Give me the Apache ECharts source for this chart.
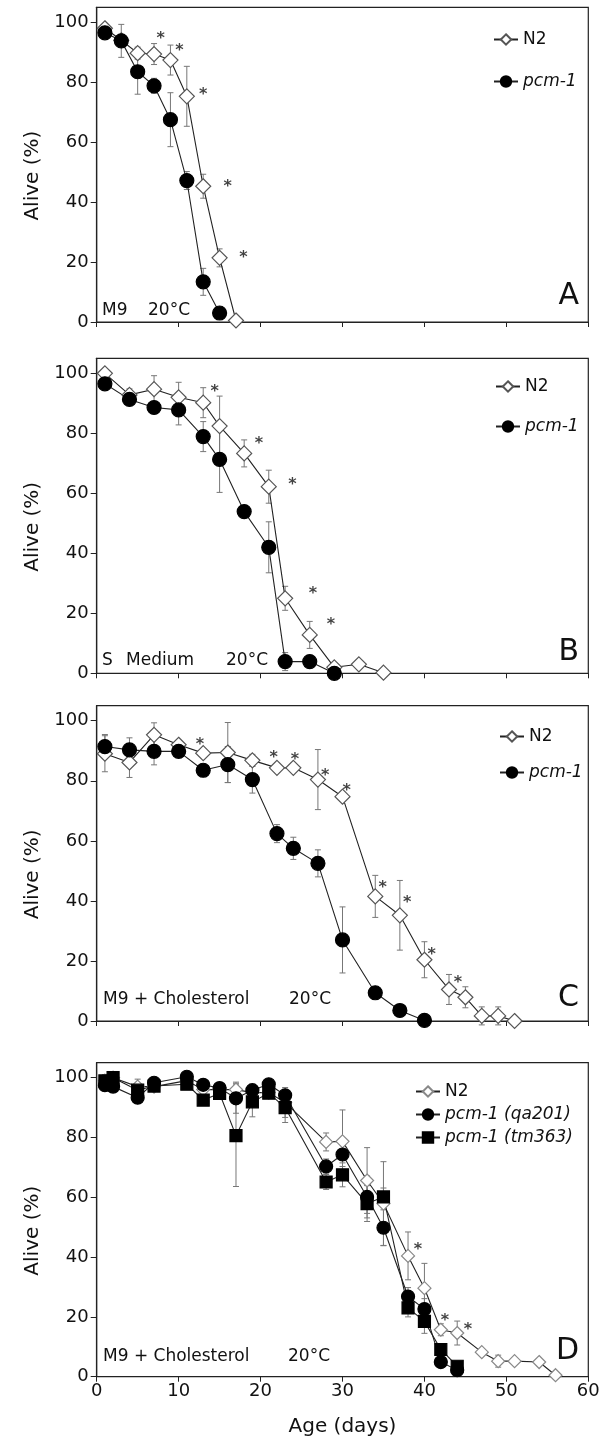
<!DOCTYPE html>
<html><head><meta charset="utf-8">
<script src="https://cdn.jsdelivr.net/npm/echarts@6/dist/echarts.min.js"></script>
<style>html,body{margin:0;padding:0;background:#fff}#c{width:606px;height:1445px}</style>
</head><body><div id="c"></div><script>
// ---------- DATA ----------
// Panel A (M9, 20°C)
const daysN2A = [1,3,5,7,9,11,13,15,17];
const n2A     = [98,94,89.7,89.4,87.4,75.3,45.3,21.4,0.5];
const n2ErrA  = [1,0,2,3.5,5,10,4,3,0];
const daysPcmA = [1,3,5,7,9,11,13,15];
const pcmA     = [96.5,93.8,83.5,78.8,67.5,47.2,13.4,3];
const pcmErrA  = [1.5,5.5,7.5,2.5,9,3,4.5,0];
const starXA = [7.8,10.1,13.0,16.0,17.9];
const starYA = [96,92.3,77.4,46.9,23];

// Panel B (S Medium, 20°C)
const daysN2B = [1,4,7,10,13,15,18,21,23,26,29,32,35];
const n2B     = [100,92.8,94.7,92,90.2,82.4,73.3,62.2,25,12.8,2,3,0.2];
const n2ErrB  = [0,2,4.5,5,5,10,4.5,5.5,4,4.5,0,0,0];
const daysPcmB = [1,4,7,10,13,15,18,21,23,26,29];
const pcmB     = [96.5,91.3,88.6,87.8,78.9,71.3,53.9,42,3.9,3.9,0];
const pcmErrB  = [1.5,2,1.5,5,5,11,1.5,8.5,3,0,0];
const starXB = [14.4,19.8,23.9,26.4,28.6];
const starYB = [95.5,78.3,64.4,28,17.8];

// Panel C (M9 + Cholesterol, 20°C)
const daysN2C = [1,4,7,10,13,16,19,22,24,27,30,34,37,40,43,45,47,49,51];
const n2C     = [89,86.1,95.3,92,89.2,89.4,86.8,84.3,84.3,80.4,74.7,41.5,35.2,20.4,10.5,7.9,1.7,1.7,0];
const n2ErrC  = [6,5,4,1,1.5,10,2,1.5,1.5,10,1.5,7,11.6,6,5,3.5,3,3,0];
const daysPcmC = [1,4,7,10,13,16,19,22,24,27,30,34,37,40];
const pcmC     = [91.4,90.3,89.8,89.8,83.5,85.4,80.4,62.4,57.5,52.5,27,9.4,3.5,0.2];
const pcmErrC  = [4,4,4.5,1.5,1.5,6,4.5,3,3.7,4.5,11,1,1,0];
const starXC = [12.6,21.6,24.2,27.9,30.5,34.9,37.9,40.9,44.1];
const starYC = [93.6,89.4,88.7,83.4,78.2,46,41,23.7,14.3];

// Panel D (M9 + Cholesterol, 20°C)
const daysN2D = [1,2,5,7,11,13,15,17,19,21,23,28,30,33,35,38,40,42,44,47,49,51,54,56];
const n2D     = [99,100,97,97,99,96,96,96,95,95,91.7,78.5,78.7,65.6,57.9,40.4,29.6,15.7,14.6,8.2,5.2,5.2,4.9,0.5];
const n2ErrD  = [2,1.5,2.5,1.5,1,1.5,1.5,2.5,1.5,1.5,5,3,10.5,11,14,8,8.3,2,4,1,2,0.5,1,0];
const daysMutD = [1,2,5,7,11,13,15,17,19,21,23,28,30,33,35,38,40,42,44];
const qaD     = [97.5,97,93.3,98.3,100.3,97.6,96.5,93.1,95.8,97.8,94.1,70.3,74.3,60.1,49.8,26.8,22.6,4.9,2.2];
const qaErrD  = [1.5,1.5,1.5,1,1,1,1,5,2,1,2,2.5,4,7,6,3,3.5,1,0.5];
const tmD     = [98.9,100,95.8,97.2,97.8,92.5,94.7,80.6,91.9,94.8,90,65.1,67.5,57.9,60.1,23,18.5,9.1,3.5];
const tmErrD  = [1,1,1,1,1,1,1,17,5,1,5,2.5,4,6,3,3,4,1.5,0.5];
const starXD = [39.2,42.5,45.3];
const starYD = [44,20.2,17.4];

const xTicks = [0,10,20,30,40,50,60];
const yTicks = [0,20,40,60,80,100];

// ---------- CHART ----------
const FONT = 'DejaVu Sans';
const zip = (a,b) => a.map((v,i)=>[v,b[i]]);
const errData = (d,v,e) => d.map((x,i)=>[x, v[i]-e[i], v[i]+e[i]]).filter((r,i)=>e[i]>0);

function errRender(params, api){
  const x = api.value(0), lo = api.value(1), hi = api.value(2);
  const p1 = api.coord([x, lo]), p2 = api.coord([x, hi]);
  const w = 3, st = {stroke:'#777', lineWidth:1};
  return {type:'group', children:[
    {type:'line', shape:{x1:p1[0],y1:p1[1],x2:p2[0],y2:p2[1]}, style:st},
    {type:'line', shape:{x1:p1[0]-w,y1:p1[1],x2:p1[0]+w,y2:p1[1]}, style:st},
    {type:'line', shape:{x1:p2[0]-w,y1:p2[1],x2:p2[0]+w,y2:p2[1]}, style:st}
  ]};
}

const gridDefs = [
  {top:7.3, height:314.7},
  {top:358.3, height:315},
  {top:705.7, height:315.3},
  {top:1062.7, height:314}
];
const grid = gridDefs.map(g => ({left:96.7, width:491.6, top:g.top, height:g.height,
  show:true, borderColor:'#222', borderWidth:1.2, backgroundColor:'transparent'}));

const xAxis = gridDefs.map((g,i)=>({
  type:'value', gridIndex:i, min:0, max:60, interval:10,
  axisLine:{show:true, lineStyle:{color:'#222', width:1.2}},
  axisTick:{show:true, length:5, customValues:xTicks, lineStyle:{color:'#222'}},
  splitLine:{show:false},
  axisLabel:{show:i===3, margin:6, color:'#111', fontSize:18, fontFamily:FONT, customValues:xTicks},
  name: i===3 ? 'Age (days)' : '', nameLocation:'middle', nameGap:40,
  nameTextStyle:{color:'#111', fontSize:20, fontFamily:FONT}
}));
const yAxis = gridDefs.map((g,i)=>({
  type:'value', gridIndex:i, min:0, max:105, interval:20,
  axisLine:{show:true, lineStyle:{color:'#222', width:1.2}},
  axisTick:{show:true, length:6, customValues:yTicks, lineStyle:{color:'#222'}},
  splitLine:{show:false},
  axisLabel:{margin:8, color:'#111', fontSize:18, fontFamily:FONT, customValues:yTicks},
  name:'Alive (%)', nameLocation:'middle', nameGap:54,
  nameTextStyle:{color:'#111', fontSize:20, fontFamily:FONT, padding:[0,22,0,0]}
}));

const series = [];
function addLine(name, gi, days, vals, errs, sym, size, fill, border){
  series.push({type:'custom', xAxisIndex:gi, yAxisIndex:gi, renderItem:errRender,
    encode:{x:0, y:[1,2]}, data:errData(days, vals, errs), z:2, silent:true});
  series.push({name, type:'line', xAxisIndex:gi, yAxisIndex:gi, data:zip(days, vals),
    symbol:sym, symbolSize:size, showSymbol:true,
    itemStyle:{color:fill, borderColor:border, borderWidth:1.2, opacity:1},
    lineStyle:{color:'#222', width:1.1}, z:3});
}
function addStars(gi, xs, ys){
  series.push({type:'scatter', xAxisIndex:gi, yAxisIndex:gi, data:zip(xs, ys),
    symbolSize:1, itemStyle:{color:'rgba(0,0,0,0)'}, silent:true, z:4,
    label:{show:true, position:'inside', formatter:'*', fontSize:16, fontWeight:'bold',
      color:'#111', fontFamily:FONT, offset:[0,5]}});
}
addLine('N2#A',0,daysN2A,n2A,n2ErrA,'diamond',15,'#fff','#555');
addLine('pcm-1#A',0,daysPcmA,pcmA,pcmErrA,'circle',14,'#000','#000');
addStars(0,starXA,starYA);
addLine('N2#B',1,daysN2B,n2B,n2ErrB,'diamond',15,'#fff','#555');
addLine('pcm-1#B',1,daysPcmB,pcmB,pcmErrB,'circle',14,'#000','#000');
addStars(1,starXB,starYB);
addLine('N2#C',2,daysN2C,n2C,n2ErrC,'diamond',15,'#fff','#555');
addLine('pcm-1#C',2,daysPcmC,pcmC,pcmErrC,'circle',14,'#000','#000');
addStars(2,starXC,starYC);
addLine('N2#D',3,daysN2D,n2D,n2ErrD,'diamond',13,'#fff','#888');
addLine('pcm-1 (qa201)#D',3,daysMutD,qaD,qaErrD,'circle',13,'#000','#000');
addLine('pcm-1 (tm363)#D',3,daysMutD,tmD,tmErrD,'rect',12,'#000','#000');
addStars(3,starXD,starYD);

const legendFmt = name => { const n = name.split('#')[0]; return n==='N2' ? n : '{i|'+n+'}'; };
function mkLegend(names, left, top, gap){
  return {data:names, orient:'vertical', left, top, itemGap:gap, itemWidth:24, itemHeight:13,
    selectedMode:false, formatter:legendFmt,
    textStyle:{fontSize:17, color:'#111', fontFamily:FONT,
      rich:{i:{fontStyle:'italic', fontSize:17, fontFamily:FONT, color:'#111'}}}};
}
const legend = [
  mkLegend(['N2#A','pcm-1#A'], 488, 26, 25),
  mkLegend(['N2#B','pcm-1#B'], 490, 373, 23),
  mkLegend(['N2#C','pcm-1#C'], 494, 723, 19),
  mkLegend(['N2#D','pcm-1 (qa201)#D','pcm-1 (tm363)#D'], 410, 1078, 6)
];

function txt(t, x, y, size, align){
  return {type:'text', x, y, silent:true, style:{text:t, fill:'#111', fontSize:size, fontFamily:FONT,
    textAlign:align||'left', textVerticalAlign:'middle'}};
}
const graphic = [
  txt('M9',102,311,17), txt('20°C',148,311,17),
  txt('S',102,661,17), txt('Medium',126,661,17), txt('20°C',226,661,17),
  txt('M9 + Cholesterol',103,1000,17), txt('20°C',289,1000,17),
  txt('M9 + Cholesterol',103,1356.7,17), txt('20°C',288,1356.7,17),
  txt('A',579,296.5,30,'right'), txt('B',579,652.5,30,'right'),
  txt('C',579,998,30,'right'), txt('D',579,1351.7,30,'right')
];

const chart = echarts.init(document.getElementById('c'), null, {renderer:'canvas'});
chart.setOption({animation:false, backgroundColor:'#fff', grid, xAxis, yAxis, series, legend, graphic});
</script></body></html>
